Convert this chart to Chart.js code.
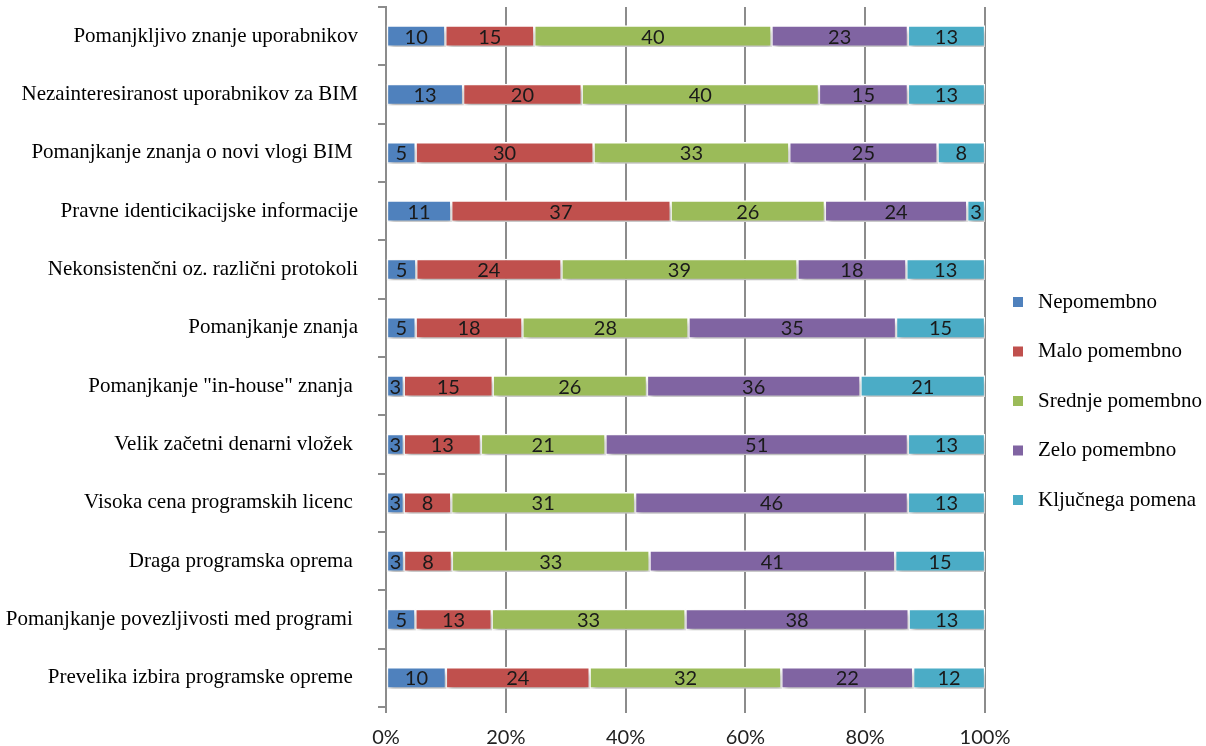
<!DOCTYPE html>
<html>
<head>
<meta charset="utf-8">
<script src="https://cdn.jsdelivr.net/npm/chart.js@4.4.1/dist/chart.umd.min.js"></script>
<style>
  html, body { margin: 0; padding: 0; background: #ffffff; }
  #wrap { width: 1206px; height: 746px; position: relative; }
</style>
</head>
<body>
<div id="wrap"><canvas id="c" width="1206" height="746"></canvas></div>
<script>
// Ovire pri uvajanju BIM – delež odgovorov po stopnji pomembnosti
const categories = [
  'Pomanjkljivo znanje uporabnikov',
  'Nezainteresiranost uporabnikov za BIM',
  'Pomanjkanje znanja o novi vlogi BIM ',
  'Pravne identicikacijske informacije',
  'Nekonsistenčni oz. različni protokoli',
  'Pomanjkanje znanja',
  'Pomanjkanje "in-house" znanja ',
  'Velik začetni denarni vložek ',
  'Visoka cena programskih licenc ',
  'Draga programska oprema ',
  'Pomanjkanje povezljivosti med programi ',
  'Prevelika izbira programske opreme '
];

const seriesNames = ['Nepomembno', 'Malo pomembno', 'Srednje pomembno', 'Zelo pomembno', 'Ključnega pomena'];

const nepomembno      = [10, 13,  5, 11,  5,  5,  3,  3,  3,  3,  5, 10];
const maloPomembno    = [15, 20, 30, 37, 24, 18, 15, 13,  8,  8, 13, 24];
const srednjePomembno = [40, 40, 33, 26, 39, 28, 26, 21, 31, 33, 33, 32];
const zeloPomembno    = [23, 15, 25, 24, 18, 35, 36, 51, 46, 41, 38, 22];
const kljucnegaPomena = [13, 13,  8,  3, 13, 15, 21, 13, 13, 15, 13, 12];

const xTicks = [0, 20, 40, 60, 80, 100];

const colors = ['#4F81BD', '#C0504D', '#9BBB59', '#8064A2', '#4BACC6'];

const series = [nepomembno, maloPomembno, srednjePomembno, zeloPomembno, kljucnegaPomena];
const rowTotals = categories.map((_, i) => series.reduce((s, arr) => s + arr[i], 0));

// 100 % stacked: each segment is its share of the row total
const datasets = series.map((arr, k) => ({
  label: seriesNames[k],
  raw: arr,
  data: arr.map((v, i) => v / rowTotals[i] * 100),
  backgroundColor: colors[k],
  borderColor: '#ffffff',
  borderWidth: 1.5,
  borderSkipped: false,
  barThickness: 21
}));

const gridGray = '#8c8c8c';

// soft drop shadow under the bars
const barShadow = {
  id: 'barShadow',
  beforeDatasetsDraw(chart) {
    const ctx = chart.ctx;
    ctx.save();
    ctx.shadowColor = 'rgba(0,0,0,0.28)';
    ctx.shadowBlur = 5;
    ctx.shadowOffsetX = 2;
    ctx.shadowOffsetY = 4;
  },
  afterDatasetsDraw(chart) {
    chart.ctx.restore();
  }
};

// value printed in the middle of every segment
const segmentLabels = {
  id: 'segmentLabels',
  afterDatasetsDraw(chart) {
    const ctx = chart.ctx;
    ctx.save();
    ctx.font = '20px Lato, "Open Sans", sans-serif';
    ctx.fillStyle = '#1a1a1a';
    ctx.textAlign = 'center';
    ctx.textBaseline = 'middle';
    chart.data.datasets.forEach((ds, k) => {
      const meta = chart.getDatasetMeta(k);
      meta.data.forEach((bar, i) => {
        const p = bar.getProps(['x', 'y', 'base'], true);
        const cx = (p.x + p.base) / 2;
        ctx.fillText(String(ds.raw[i]), cx, p.y + 1);
      });
    });
    ctx.restore();
  }
};

// vertical legend on the right
const sideLegend = {
  id: 'sideLegend',
  afterDraw(chart) {
    const ctx = chart.ctx;
    ctx.save();
    ctx.font = '21px "Liberation Serif", "Times New Roman", serif';
    ctx.textBaseline = 'middle';
    ctx.textAlign = 'left';
    chart.data.datasets.forEach((ds, k) => {
      const y = 302 + k * 49.5;
      ctx.fillStyle = ds.backgroundColor;
      ctx.fillRect(1013, y - 5, 10, 10);
      ctx.fillStyle = '#000000';
      ctx.fillText(ds.label, 1038, y);
    });
    ctx.restore();
  }
};

new Chart(document.getElementById('c'), {
  type: 'bar',
  data: { labels: categories, datasets },
  plugins: [barShadow, segmentLabels, sideLegend],
  options: {
    indexAxis: 'y',
    responsive: false,
    animation: false,
    layout: { padding: { left: 0, right: 221, top: 7, bottom: 0 } },
    plugins: {
      legend: { display: false },
      tooltip: { enabled: false }
    },
    scales: {
      x: {
        stacked: true,
        min: 0,
        max: 100,
        afterBuildTicks(scale) { scale.ticks = xTicks.map(v => ({ value: v })); },
        afterFit(scale) { scale.height = 39; },
        ticks: {
          callback: v => v + '%',
          font: { family: 'Lato, "Open Sans", sans-serif', size: 20 },
          color: '#222222',
          padding: 13
        },
        grid: { color: gridGray, lineWidth: 2, tickLength: 6, drawOnChartArea: true },
        border: { display: false }
      },
      y: {
        stacked: true,
        afterFit(scale) {
          scale.width = 386;
          scale.paddingTop = 0;
          scale.paddingBottom = 0;
        },
        ticks: {
          font: { family: '"Liberation Serif", "Times New Roman", serif', size: 21 },
          color: '#000000',
          padding: 20,
          autoSkip: false
        },
        grid: { offset: true, drawOnChartArea: false, color: gridGray, lineWidth: 2, tickLength: 8 },
        border: { display: true, color: gridGray, width: 2 }
      }
    }
  }
});
</script>
</body>
</html>
